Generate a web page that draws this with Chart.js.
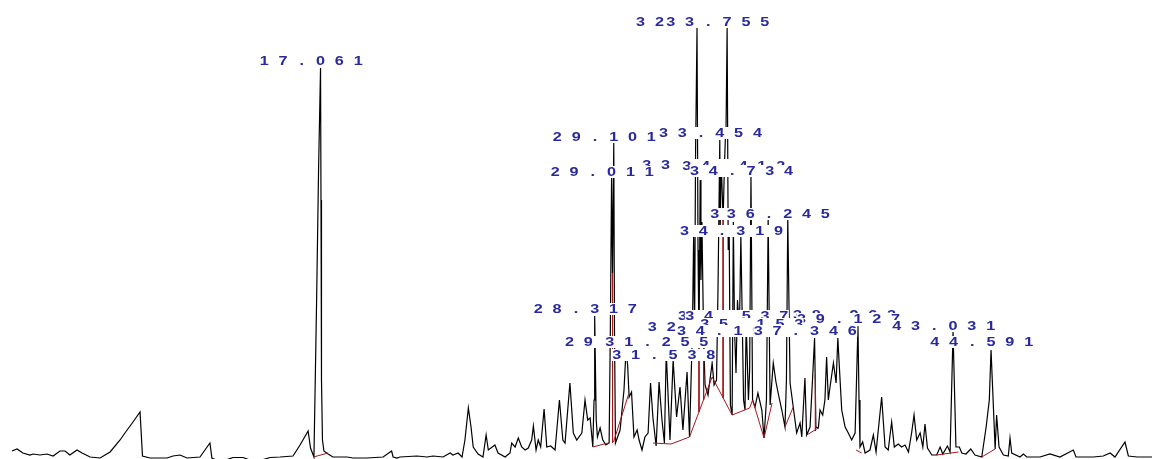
<!DOCTYPE html>
<html>
<head>
<meta charset="utf-8">
<script src="https://cdn.jsdelivr.net/npm/chart.js@4.4.0/dist/chart.umd.min.js"></script>
<style>
  html, body { margin: 0; padding: 0; background: #fff; }
  #wrap { width: 1152px; height: 459px; }
</style>
</head>
<body>
<div id="wrap"><canvas id="chromChart" width="1152" height="459"></canvas></div>
<script>
// [retention time (min), signal], left to right
const trace = [
  [4.39,8],[4.60,10],[4.84,6],[5.13,4],[5.26,5],[5.54,4],[5.83,5],[6.08,3],[6.36,8],[6.57,8],
  [6.77,4],[7.06,9],[7.27,6],[7.60,2],[8.01,1],[8.42,7],[8.83,19],[9.03,26],[9.36,37],[9.65,47],
  [9.75,3],[10.06,1],[10.76,1],[11.00,3],[11.29,4],[11.58,1],[12.11,2],[12.52,16],[12.60,1],[12.93,-3],
  [13.47,1.5],[13.88,1.5],[14.37,-3],[14.99,1.5],[15.40,2],[15.93,3],[16.22,14],[16.55,28],[16.65,11],[16.79,2],
  [16.83,59],[16.90,159],[16.98,289],[17.061,391],[17.08,259],[17.10,79],[17.14,19],[17.20,8],[17.37,5],[17.57,2],
  [18.15,2],[18.39,1],[18.97,1],[19.63,2],[19.98,8],[20.04,2],[20.20,1],
  [20.32,2],[21.02,3],[21.43,2],[21.68,3],[22.09,2],[22.38,6],[22.50,4],[22.71,6],[22.87,2],[22.99,19],
  [23.13,51],[23.24,32],[23.33,12],[23.53,5],[23.73,2],[23.86,24],[23.95,9],[24.22,14],[24.35,6],[24.64,2],
  [24.84,6],[24.91,16],[25.05,12],[25.18,21],[25.32,12],[25.46,9],[25.59,11],[25.73,19],[25.80,33],[25.91,9],
  [26.00,19],[26.10,12],[26.24,50],[26.35,12],[26.51,13],[26.69,9],[26.87,59],[27.01,19],[27.10,16],[27.30,76],
  [27.44,26],[27.58,19],[27.79,26],[27.92,59],[28.03,39],[28.13,41],[28.24,12],
  [28.29,59],[28.317,143],[28.38,39],[28.43,22],[28.54,31],[28.65,19],[28.78,14],[28.91,16],[28.96,129],[29.011,281],
  [29.05,186],[29.101,316],[29.13,129],[29.17,16],[29.36,29],[29.52,69],[29.60,107],[29.67,94],[29.73,62],[29.83,67],
  [29.93,22],[30.06,29],[30.14,19],[30.26,9],[30.38,22],[30.51,26],[30.61,76],[30.71,41],[30.84,13],[30.96,77],
  [31.08,39],[31.18,16],[31.255,107],[31.41,19],[31.538,99],[31.68,42],[31.82,72],[31.94,29],[32.11,87],[32.21,22],
  [32.33,129],[32.38,223],[32.42,129],[32.46,309],[32.49,369],[32.519,431],[32.56,209],[32.60,114],[32.65,279],[32.68,179],
  [32.72,237],[32.79,119],[32.85,74],[32.97,64],[33.14,96],[33.22,74],[33.32,79],[33.38,169],[33.454,319],[33.47,229],
  [33.51,299],[33.59,239],[33.64,289],[33.68,319],[33.71,329],[33.755,431],[33.80,209],[33.84,227],[33.89,54],[33.96,44],
  [34.01,237],[34.06,129],[34.12,86],[34.18,159],[34.26,129],[34.319,223],[34.43,59],[34.49,49],[34.537,137],[34.63,59],
  [34.68,89],[34.734,283],[34.80,59],[34.90,52],[35.02,66],[35.18,49],[35.27,21],[35.37,59],[35.44,241],[35.52,54],
  [35.65,96],[35.76,77],[35.85,66],[36.00,49],[36.13,32],[36.19,79],[36.245,241],[36.34,76],[36.47,52],[36.61,26],
  [36.75,36],[36.82,22],[36.95,81],[37.02,24],[37.16,32],[37.26,79],[37.346,121],[37.40,32],[37.50,31],[37.57,49],
  [37.68,44],[37.77,59],[37.84,102],[37.91,59],[37.98,72],[38.12,96],[38.23,76],[38.30,121],[38.37,89],[38.46,49],
  [38.60,32],[38.73,26],[38.87,19],[39.01,26],[39.127,133],[39.17,59],[39.21,12],[39.32,17],[39.42,6],[39.62,9],
  [39.76,24],[39.87,7],[40.10,62],[40.24,12],[40.37,9],[40.51,37],[40.62,12],[40.78,15],[40.92,12],[41.06,14],
  [41.20,7],[41.33,26],[41.43,44],[41.54,19],[41.68,26],[41.79,12],[41.88,35],[41.98,11],[42.16,4],[42.36,4],
  [42.50,12],[42.61,5],[42.80,13],[42.91,7],[43.031,127],[43.15,12],[43.29,12],[43.39,6],[43.56,5],[43.76,10],
  [43.93,4],[44.21,2],[44.39,32],[44.52,59],[44.591,109],[44.76,10],[44.82,44],[44.92,12],[45.10,4],[45.30,3],
  [45.37,21],[45.44,6],[45.78,2],[45.92,5],[46.06,2],[46.60,2],[47.01,5],[47.42,2],[47.97,9],[48.08,2],
  [48.79,2],[49.20,3],[49.48,6],[49.68,2],[50.09,17],[50.23,3],[50.59,2],[51.20,2]
];

// integration baselines and drop lines (red)
const baselines = [
  [[16.77,2],[17.37,6]],
  [[28.24,12],[28.78,15.5],[28.91,16]],
  [[29.05,186],[29.05,16]],
  [[29.09,17],[29.70,64]],
  [[30.71,16],[31.45,15],[32.21,22],[33.14,82],[33.96,44],[34.68,51],[34.80,59],[35.27,21],[35.60,56]],
  [[32.60,114],[32.60,47]],
  [[32.79,119],[32.79,59]],
  [[33.59,239],[33.59,61]],
  [[36.13,32],[36.47,52]],
  [[37.02,24],[37.50,31]],
  [[37.38,84],[37.38,28]],
  [[39.05,9],[39.28,6]],
  [[42.36,4],[43.25,7]],
  [[44.21,2],[44.76,10]]
];

// peak labels, in drawing order (later ones cover earlier ones)
const labelTexts  = ['32.519','33.755','17.061','29.101','33.454','33.328','34.412','29.011','34.734','35.558','36.245','34.319','28.317',
                     '34.243','34.537','38.962','39.127','32.998','35.153','34.198','37.346','43.031','29.601','31.255','31.538','44.591'];
const labelTimes  = [32.519,33.755,17.061,29.101,33.454,32.77,34.41,29.011,34.734,35.56,36.245,34.319,28.317,
                     34.24,34.537,38.96,39.127,33.00,35.15,34.20,37.346,43.031,29.60,31.255,31.538,44.591];
const labelLevels = [437,437,398,322,326,294,293,287,288,245,245,228,150,
                     143,143,144,140,132,135,128,128,133,117,117,104,117];

const CHAR_STEP = 18.8;

const peakLabels = {
    id: 'peakLabels',
    afterDatasetsDraw(chart) {
        const ctx = chart.ctx;
        const xs = chart.scales.x;
        const ys = chart.scales.y;
        ctx.save();
        ctx.font = 'bold 12px "Liberation Sans", Arial, sans-serif';
        ctx.textAlign = 'center';
        ctx.textBaseline = 'middle';
        labelTexts.forEach((txt, i) => {
            const px = xs.getPixelForValue(labelTimes[i]);
            const py = ys.getPixelForValue(labelLevels[i]);
            const n = txt.length;
            const first = px - (n / 2) * CHAR_STEP;
            // white box behind the text hides the trace
            ctx.fillStyle = '#ffffff';
            ctx.fillRect(first - 5, py - 6, (n - 1) * CHAR_STEP + 10, 12);
            ctx.fillStyle = '#29299a';
            for (let k = 0; k < n; k++) {
                ctx.save();
                ctx.translate(first + k * CHAR_STEP, py + 0.5);
                ctx.scale(1.35, 1);
                ctx.fillText(txt[k], 0, 0);
                ctx.restore();
            }
        });
        ctx.restore();
    }
};

const toPoints = arr => arr.map(p => ({ x: p[0], y: p[1] }));

const redSets = baselines.map(seg => ({
    data: toPoints(seg),
    borderColor: '#a3171c',
    borderWidth: 1,
    pointRadius: 0,
    tension: 0,
    fill: false
}));

new Chart(document.getElementById('chromChart'), {
    type: 'line',
    data: {
        datasets: redSets.concat([{
            data: toPoints(trace),
            borderColor: '#000000',
            borderWidth: 1.2,
            pointRadius: 0,
            tension: 0,
            fill: false
        }])
    },
    options: {
        responsive: false,
        devicePixelRatio: 1,
        animation: false,
        events: [],
        layout: { padding: 0 },
        scales: {
            x: { type: 'linear', min: 3.9, max: 51.2, display: false },
            y: { min: 0, max: 459, display: false }
        },
        plugins: {
            legend: { display: false },
            tooltip: { enabled: false }
        }
    },
    plugins: [peakLabels]
});
</script>
</body>
</html>
